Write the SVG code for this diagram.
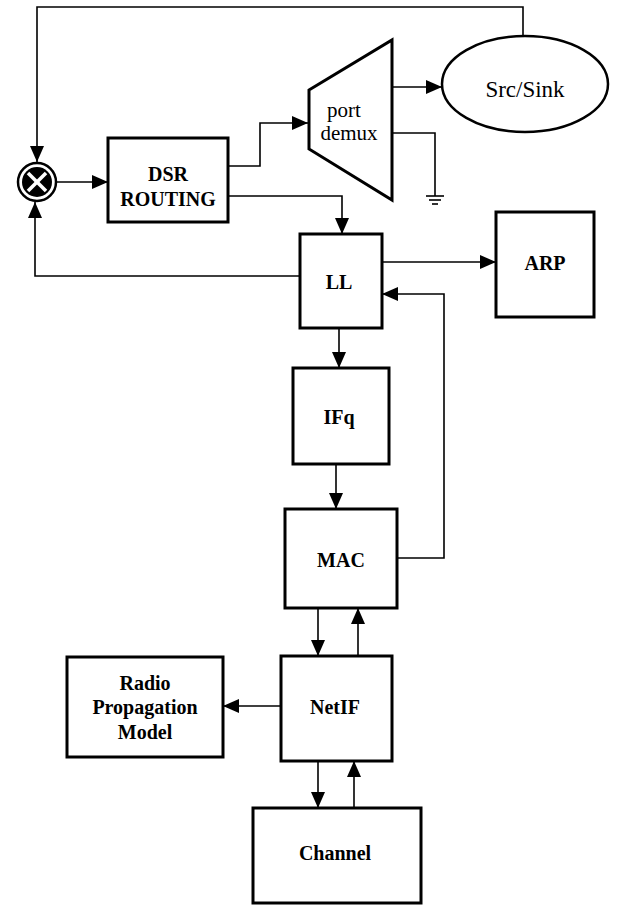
<svg xmlns="http://www.w3.org/2000/svg" width="623" height="905" viewBox="0 0 623 905">
<defs>
<marker id="ah" viewBox="0 0 16 14" refX="16" refY="7" markerWidth="16" markerHeight="14" markerUnits="userSpaceOnUse" orient="auto">
<path d="M0,0 L16,7 L0,14 Z" fill="#000"/>
</marker>
</defs>
<style>
.box{fill:#fff;stroke:#000;stroke-width:3}
.c{fill:none;stroke:#000;stroke-width:1.6}
.t{font-family:"Liberation Serif","Times New Roman",serif;font-weight:bold;font-size:20px;text-anchor:middle;fill:#000}
.r{font-family:"Liberation Serif","Times New Roman",serif;font-size:21px;text-anchor:middle;fill:#000}
</style>
<rect width="623" height="905" fill="#fff"/>
<g id="connectors">
<polyline class="c" points="523,36 523,7 37,7 37,162" marker-end="url(#ah)"/>
<line class="c" x1="57" y1="182" x2="108" y2="182" marker-end="url(#ah)"/>
<polyline class="c" points="228,166 260,166 260,123 308,123" marker-end="url(#ah)"/>
<polyline class="c" points="228,196 342,196 342,234" marker-end="url(#ah)"/>
<line class="c" x1="392" y1="87" x2="442" y2="87" marker-end="url(#ah)"/>
<polyline class="c" points="392,133 435,133 435,196"/>
<line class="c" x1="426" y1="196" x2="444" y2="196"/>
<line class="c" x1="429" y1="200" x2="441" y2="200"/>
<line class="c" x1="432" y1="204" x2="438" y2="204"/>
<polyline class="c" points="300,276 35,276 35,202" marker-end="url(#ah)"/>
<line class="c" x1="382" y1="262" x2="496" y2="262" marker-end="url(#ah)"/>
<polyline class="c" points="397,558 444,558 444,294 382,294" marker-end="url(#ah)"/>
<line class="c" x1="339" y1="328" x2="339" y2="368" marker-end="url(#ah)"/>
<line class="c" x1="336" y1="464" x2="336" y2="509" marker-end="url(#ah)"/>
<line class="c" x1="318" y1="608" x2="318" y2="656" marker-end="url(#ah)"/>
<line class="c" x1="358" y1="656" x2="358" y2="608" marker-end="url(#ah)"/>
<line class="c" x1="281" y1="706" x2="223" y2="706" marker-end="url(#ah)"/>
<line class="c" x1="318" y1="761" x2="318" y2="808" marker-end="url(#ah)"/>
<line class="c" x1="354" y1="808" x2="354" y2="761" marker-end="url(#ah)"/>
</g>
<g id="mixer">
<circle cx="37" cy="182" r="19" fill="#fff" stroke="#000" stroke-width="2.5"/>
<circle cx="37" cy="182" r="15" fill="#000"/>
<line x1="28" y1="173" x2="46" y2="191" stroke="#fff" stroke-width="3.5"/>
<line x1="46" y1="173" x2="28" y2="191" stroke="#fff" stroke-width="3.5"/>
</g>
<g id="dsr">
<rect class="box" x="108" y="138" width="120" height="84"/>
<text class="t" x="168" y="181">DSR</text>
<text class="t" x="168" y="206">ROUTING</text>
</g>
<g id="demux">
<polygon class="box" points="309,90 392,40 392,200 309,149"/>
<text class="r" x="344" y="117">port</text>
<text class="r" x="349" y="140">demux</text>
</g>
<g id="srcsink">
<ellipse cx="525" cy="84" rx="83" ry="48" fill="#fff" stroke="#000" stroke-width="2.5"/>
<text class="r" x="525" y="97" style="font-size:23px">Src/Sink</text>
</g>
<g id="ll">
<rect class="box" x="300" y="234" width="82" height="94"/>
<text class="t" x="339" y="289">LL</text>
</g>
<g id="arp">
<rect class="box" x="496" y="212" width="98" height="105"/>
<text class="t" x="545" y="270">ARP</text>
</g>
<g id="ifq">
<rect class="box" x="293" y="368" width="96" height="96"/>
<text class="t" x="339" y="424">IFq</text>
</g>
<g id="mac">
<rect class="box" x="285" y="509" width="112" height="99"/>
<text class="t" x="341" y="567">MAC</text>
</g>
<g id="netif">
<rect class="box" x="281" y="656" width="111" height="105"/>
<text class="t" x="335" y="714">NetIF</text>
</g>
<g id="radio">
<rect class="box" x="67" y="657" width="156" height="100"/>
<text class="t" x="145" y="690">Radio</text>
<text class="t" x="145" y="714">Propagation</text>
<text class="t" x="145" y="739">Model</text>
</g>
<g id="channel">
<rect class="box" x="253" y="808" width="168" height="95"/>
<text class="t" x="335" y="860">Channel</text>
</g>
</svg>
